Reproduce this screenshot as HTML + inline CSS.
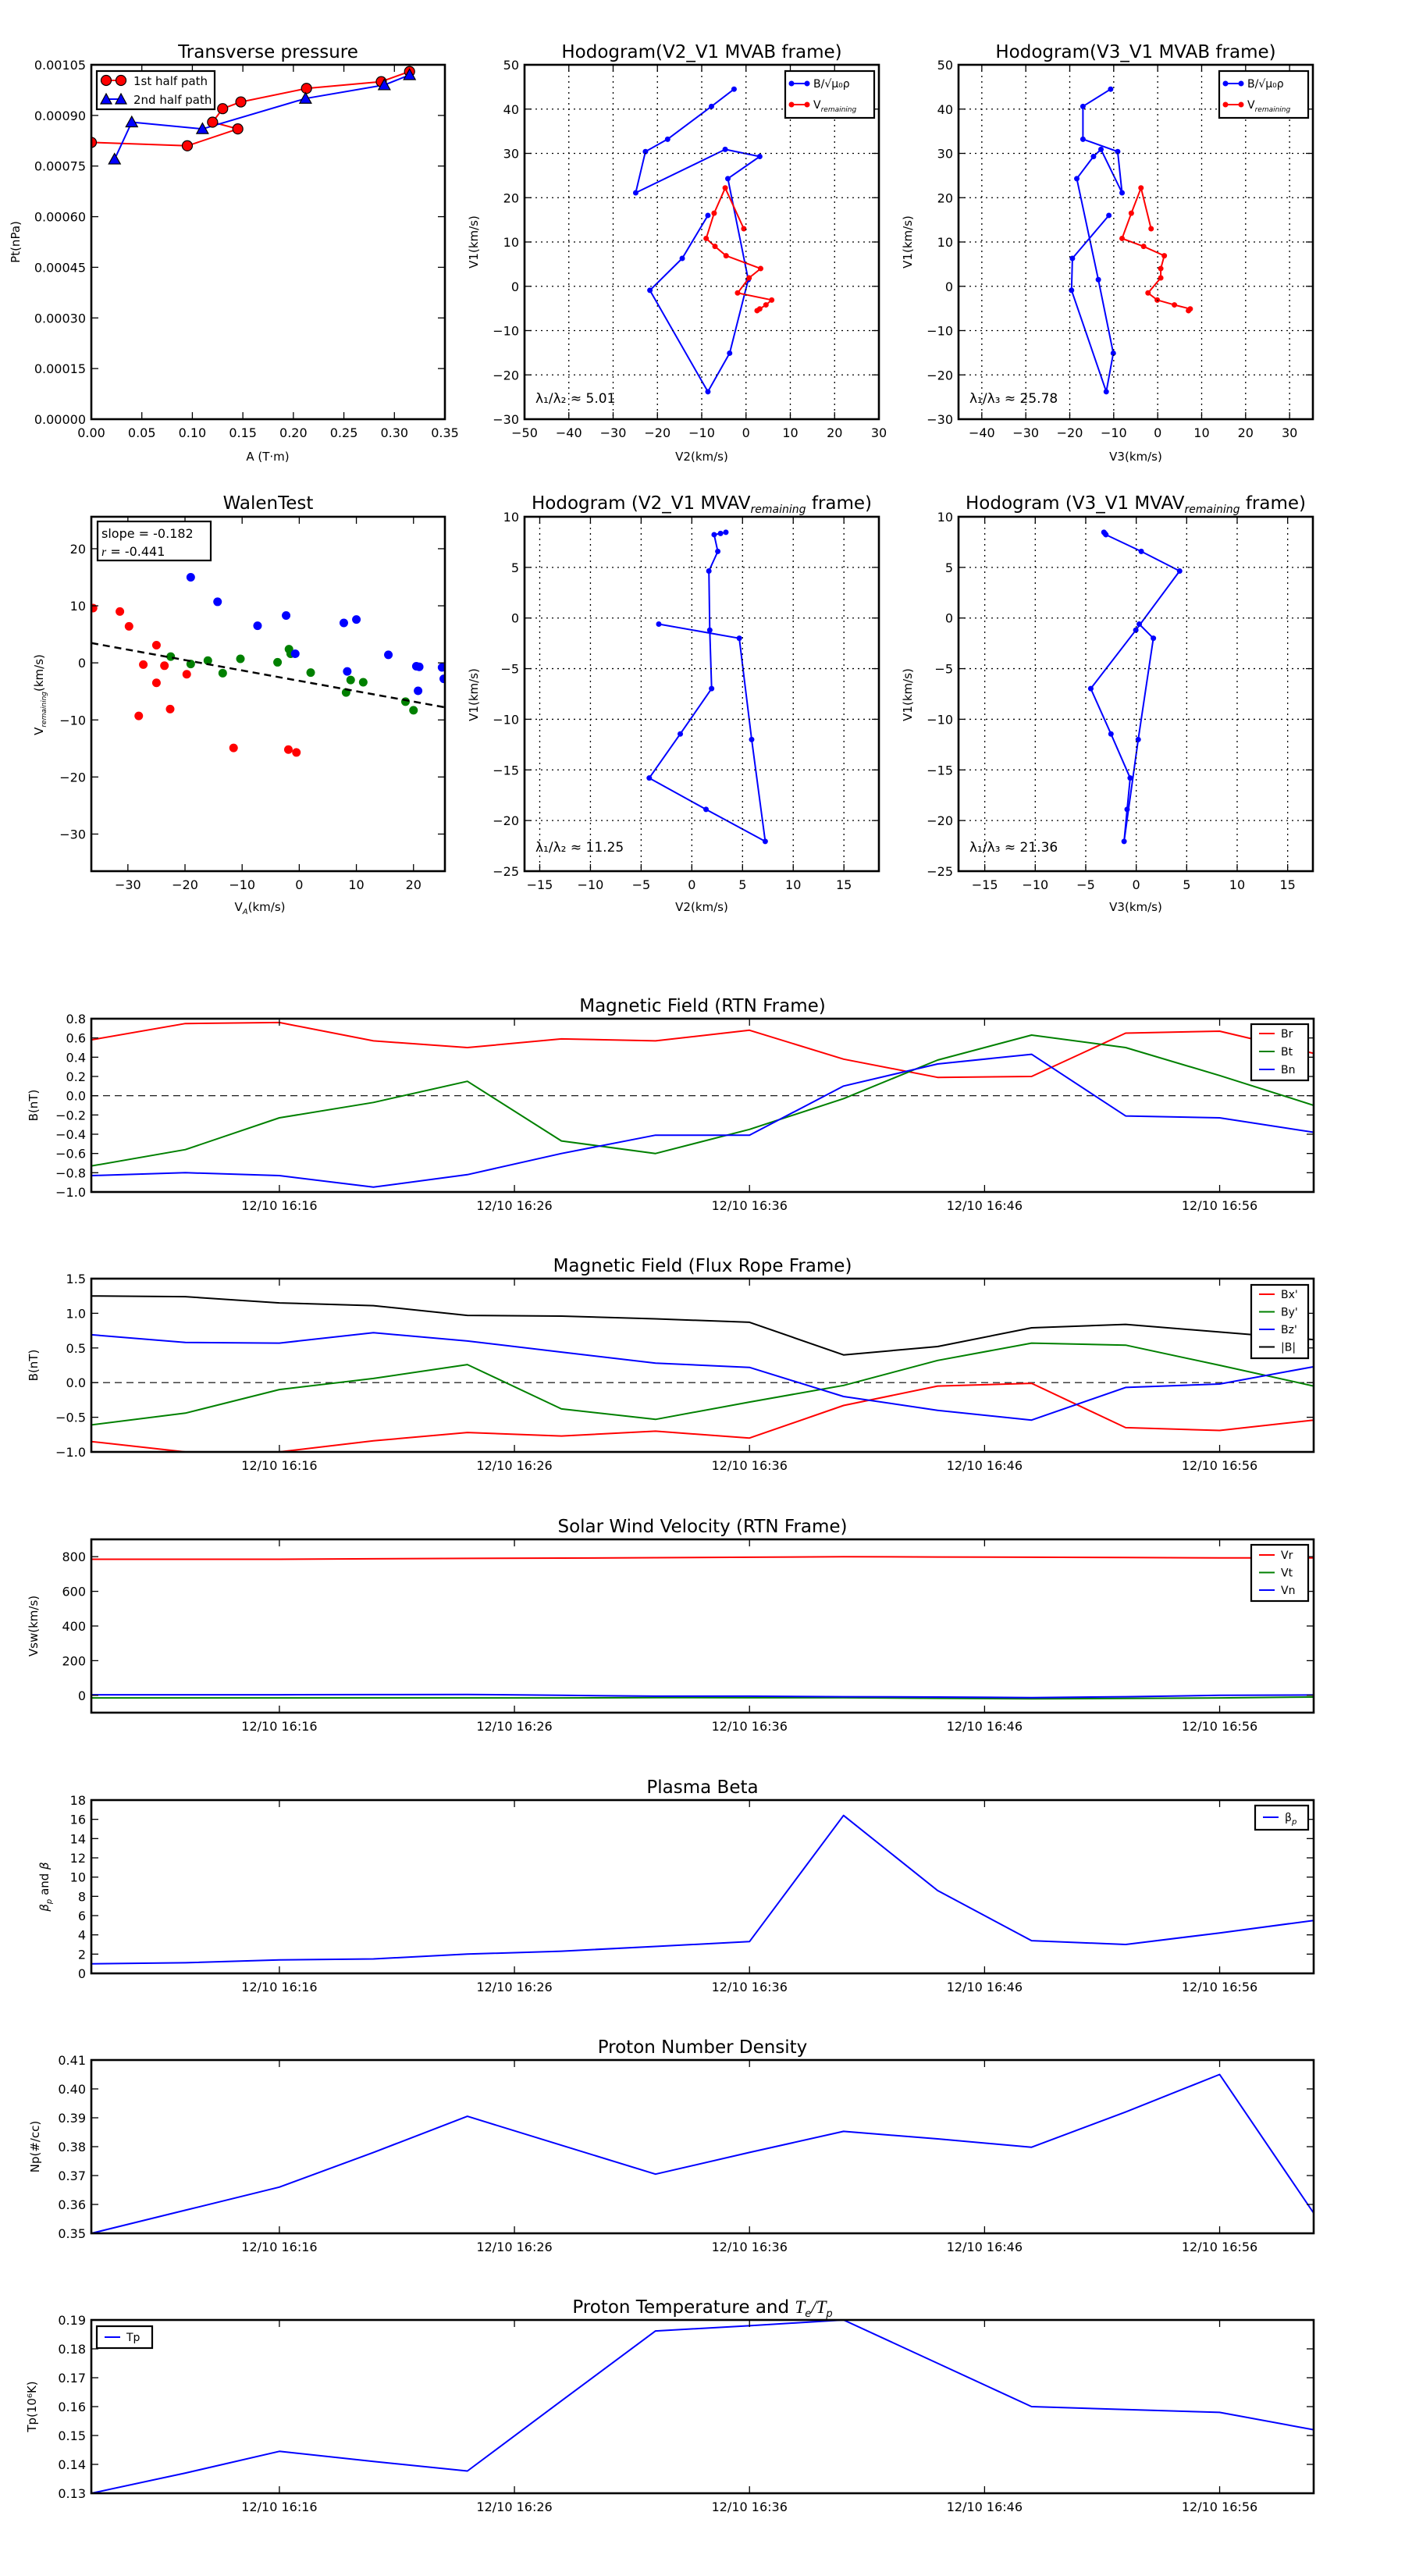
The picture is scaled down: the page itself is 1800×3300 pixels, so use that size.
<!DOCTYPE html>
<html><head><meta charset="utf-8"><style>
body{margin:0;background:#fff}
svg{display:block;font-family:"DejaVu Sans","Liberation Sans",sans-serif}
</style></head><body>
<svg id="fig" xmlns="http://www.w3.org/2000/svg" width="1800" height="3300" viewBox="0 0 1800 3300"></svg>
<script>
// ---------- data ----------
const ptRedA=[0.315,0.287,0.213,0.148,0.13,0.12,0.145,0.095,0.0];
const ptRedP=[0.00103,0.00100,0.00098,0.00094,0.00092,0.00088,0.00086,0.00081,0.00082];
const ptBlueA=[0.315,0.29,0.212,0.11,0.04,0.023];
const ptBlueP=[0.00102,0.00099,0.00095,0.00086,0.00088,0.00077];
const bV1=[44.5,40.6,33.2,30.4,21.1,30.9,29.3,24.3,1.5,-15.1,-23.8,-0.9,6.3,16.0];
const bV2=[-2.7,-7.8,-17.7,-22.7,-24.9,-4.7,3.1,-4.1,0.5,-3.7,-8.6,-21.7,-14.4,-8.6];
const bV3=[-10.7,-17.0,-17.0,-9.1,-8.1,-12.9,-14.6,-18.4,-13.5,-10.1,-11.7,-19.6,-19.4,-11.1];
const vV1=[13.0,22.2,16.5,10.8,9.0,6.9,4.0,1.9,-1.5,-3.1,-4.2,-5.1,-5.5];
const vV2=[-0.5,-4.7,-7.2,-9.0,-7.0,-4.5,3.3,0.7,-1.9,5.8,4.5,3.1,2.5];
const vV3=[-1.5,-3.8,-6.0,-8.1,-3.2,1.5,0.7,0.7,-2.2,-0.1,3.8,7.4,7.0];
const rV1=[8.47,8.35,8.23,6.58,4.64,-1.2,-6.97,-11.45,-15.8,-18.9,-22.06,-12.0,-2.0,-0.6];
const rV2=[3.36,2.83,2.2,2.56,1.68,1.77,1.95,-1.14,-4.2,1.4,7.24,5.9,4.68,-3.26];
const rV3=[-3.2,-3.1,-3.0,0.5,4.3,-0.04,-4.5,-2.5,-0.6,-0.9,-1.2,0.2,1.7,0.3];
const walenRedX=[-36.1,-31.4,-29.8,-25,-27.3,-23.6,-25,-19.7,-28.1,-22.6,-11.5,-1.9,-0.5];
const walenRedY=[9.6,9.0,6.4,3.1,-0.3,-0.5,-3.5,-2.0,-9.3,-8.1,-14.9,-15.2,-15.7];
const walenGreenX=[-22.5,-19,-16,-13.4,-10.3,-3.8,-1.8,-1.5,2,8.2,9.0,11.2,18.6,20];
const walenGreenY=[1.1,-0.2,0.4,-1.8,0.7,0.1,2.4,1.6,-1.7,-5.2,-3.0,-3.4,-6.8,-8.3];
const walenBlueX=[-19,-14.3,-7.3,-2.3,-0.7,7.8,10,15.6,8.4,20.5,21,20.8,25,25.3];
const walenBlueY=[15.0,10.7,6.5,8.3,1.6,7.0,7.6,1.4,-1.5,-0.6,-0.7,-4.9,-0.8,-2.8];
const walenSlope=-0.182, walenIntercept=-3.15;
const timeMin=[0,4,8,12,16,20,24,28,32,36,40,44,48,52];
const timeTickMin=[8,18,28,38,48];
const timeTickLabels=['12/10 16:16','12/10 16:26','12/10 16:36','12/10 16:46','12/10 16:56'];
const Br=[0.58,0.75,0.76,0.57,0.50,0.59,0.57,0.68,0.38,0.19,0.20,0.65,0.67,0.44];
const Bt=[-0.73,-0.56,-0.23,-0.07,0.15,-0.47,-0.60,-0.35,-0.03,0.37,0.63,0.50,0.21,-0.10];
const Bn=[-0.83,-0.80,-0.83,-0.95,-0.82,-0.60,-0.41,-0.41,0.10,0.33,0.43,-0.21,-0.23,-0.38];
const Bx=[-0.85,-1.00,-1.00,-0.84,-0.72,-0.77,-0.70,-0.80,-0.33,-0.05,-0.01,-0.65,-0.69,-0.54];
const By=[-0.61,-0.44,-0.10,0.06,0.26,-0.38,-0.53,-0.28,-0.04,0.32,0.57,0.54,0.25,-0.05];
const Bz=[0.69,0.58,0.57,0.72,0.60,0.44,0.28,0.22,-0.20,-0.40,-0.54,-0.07,-0.02,0.23];
const Bmag=[1.25,1.24,1.15,1.11,0.97,0.96,0.92,0.87,0.40,0.52,0.79,0.84,0.73,0.62];
const Vr=[785,785,785,788,790,792,794,797,800,798,797,795,793,793];
const Vt=[-15,-15,-15,-15,-15,-15,-13,-14,-14,-17,-20,-18,-15,-10];
const Vn=[3,3,3,4,5,0,-5,-5,-8,-10,-13,-8,0,2];
const betaP=[1.0,1.1,1.4,1.5,2.0,2.3,2.8,3.3,16.4,8.6,3.4,3.0,4.2,5.5];
const Np=[0.350,0.358,0.366,0.378,0.3905,0.3805,0.3705,0.378,0.3853,0.3827,0.3798,0.392,0.405,0.357];
const Tp=[0.130,0.137,0.1445,0.141,0.1377,0.162,0.1862,0.188,0.190,0.175,0.160,0.159,0.158,0.152];

// ---------- helpers ----------
const NS='http://www.w3.org/2000/svg';
const svg=document.getElementById('fig');
let clipN=0;
function mk(tag,attrs,parent){const e=document.createElementNS(NS,tag);for(const k in attrs)e.setAttribute(k,attrs[k]);parent.appendChild(e);return e;}
function txt(parent,str,x,y,size,anchor,rot,extra){
  const a={x:x,y:y,'font-size':size,'text-anchor':anchor||'middle',fill:'#000'};
  if(rot)a.transform='rotate('+rot+' '+x+' '+y+')';
  if(extra)for(const k in extra)a[k]=extra[k];
  const t=mk('text',a,parent);t.textContent=str;return t;}
function fmtMinus(s){return String(s).replace('-','\u2212');}
function panel(name,box,xd,yd){
  const g=mk('g',{},svg);
  
  
  const id='clip'+(clipN++);
  const cp=mk('clipPath',{id:id},g);
  mk('rect',{x:box.x,y:box.y,width:box.w,height:box.h},cp);
  const data=mk('g',{'clip-path':'url(#'+id+')'},g);
  
  
  return {g:g,data:data,box:box,
    sx:v=>box.x+(v-xd[0])/(xd[1]-xd[0])*box.w,
    sy:v=>box.y+box.h-(v-yd[0])/(yd[1]-yd[0])*box.h};
}
function xticks(p,vals,labels,grid,size){
  const b=p.box;
  vals.forEach((v,i)=>{
    const x=p.sx(v);
    if(grid){const gl=mk('line',{x1:x,x2:x,y1:b.y,y2:b.y+b.h,stroke:'#000','stroke-width':1.3,'stroke-dasharray':'2,5'},p.g);
      
      }
    const t1=mk('line',{x1:x,x2:x,y1:b.y+b.h,y2:b.y+b.h-9,stroke:'#000','stroke-width':1.3},p.g);
    
    
    const t2=mk('line',{x1:x,x2:x,y1:b.y,y2:b.y+9,stroke:'#000','stroke-width':1.3},p.g);
    
    
    const l=txt(p.g,fmtMinus(labels[i]),x,b.y+b.h+23,size||16,'middle');
    
    
  });
}
function yticks(p,vals,labels,grid,size){
  const b=p.box;
  vals.forEach((v,i)=>{
    const y=p.sy(v);
    if(grid){const gl=mk('line',{x1:b.x,x2:b.x+b.w,y1:y,y2:y,stroke:'#000','stroke-width':1.3,'stroke-dasharray':'2,5'},p.g);
      
      }
    const t1=mk('line',{x1:b.x,x2:b.x+9,y1:y,y2:y,stroke:'#000','stroke-width':1.3},p.g);
    
    
    const t2=mk('line',{x1:b.x+b.w,x2:b.x+b.w-9,y1:y,y2:y,stroke:'#000','stroke-width':1.3},p.g);
    
    
    const l=txt(p.g,fmtMinus(labels[i]),b.x-7,y+6,size||16,'end');
    
    
  });
}
function frame(p){
  const b=p.box;
  const r=mk('rect',{x:b.x,y:b.y,width:b.w,height:b.h,fill:'none',stroke:'#000','stroke-width':2.6},p.g);
  
  
}
function line(p,xs,ys,color,w,name){
  const pts=xs.map((x,i)=>p.sx(x).toFixed(1)+','+p.sy(ys[i]).toFixed(1)).join(' ');
  const l=mk('polyline',{points:pts,fill:'none',stroke:color,'stroke-width':w||2,'stroke-linejoin':'round'},p.data);
  
  
  return l;
}
function dots(p,xs,ys,color,r,name,edge){
  xs.forEach((x,i)=>{
    const c=mk('circle',{cx:p.sx(x),cy:p.sy(ys[i]),r:r,fill:color,stroke:edge?'#000':'none','stroke-width':1.2},p.data);
    
    
  });
}
function tris(p,xs,ys,color,s,name){
  xs.forEach((x,i)=>{
    const cx=p.sx(x),cy=p.sy(ys[i]);
    const t=mk('polygon',{points:(cx)+','+(cy-s)+' '+(cx-s)+','+(cy+s*0.8)+' '+(cx+s)+','+(cy+s*0.8),fill:color,stroke:'#000','stroke-width':1.2},p.data);
    
    
  });
}
function title(p,str,y){
  const t=txt(p.g,str,p.box.x+p.box.w/2,y,23,'middle');
  
  
  return t;
}
function legendBox(p,x,y,w,h){
  const r=mk('rect',{x:x,y:y,width:w,height:h,fill:'#fff',stroke:'#000','stroke-width':2.2},p.g);
  
  
}
function legendLine(p,x,y,color,label,dot){
  const l=mk('line',{x1:x,x2:x+20,y1:y,y2:y,stroke:color,'stroke-width':2},p.g);
  
  
  if(dot){[x,x+20].forEach(cx=>{const c=mk('circle',{cx:cx,cy:y,r:3.5,fill:color},p.g);
    
    });}
  const t=txt(p.g,label,x+28,y+5,14,'start');
  
  
  return t;
}
function range(a,b,s){const r=[];for(let v=a;v<=b+1e-9;v+=s)r.push(Math.round(v*1e6)/1e6);return r;}

// ---------- Transverse pressure ----------
(function(){
  const p=panel('transverse-pressure-chart',{x:117,y:83,w:453,h:454},[0,0.35],[0,0.00105]);
  const xv=range(0,0.35,0.05), yv=range(0,0.00105,0.00015);
  xticks(p,xv,xv.map(v=>v.toFixed(2)));
  yticks(p,yv,yv.map(v=>v.toFixed(5)));
  line(p,ptRedA,ptRedP,'#f00',2,'first-half-path-line');
  line(p,ptBlueA,ptBlueP,'#00f',2,'second-half-path-line');
  dots(p,ptRedA,ptRedP,'#f00',6.5,'first-half-point',true);
  tris(p,ptBlueA,ptBlueP,'#00f',7.5,'second-half-point');
  frame(p);
  title(p,'Transverse pressure',74);
  const xl=txt(p.g,'A (T\u00b7m)',343,590,15,'middle');
  
  
  const yl=txt(p.g,'Pt(nPa)',25,310,15,'middle',-90);
  
  
  legendBox(p,124,91,151,49);
  const l1=mk('line',{x1:136,x2:155,y1:103,y2:103,stroke:'#f00','stroke-width':2},p.g);
  
  
  [136,155].forEach(cx=>{const c=mk('circle',{cx:cx,cy:103,r:6.5,fill:'#f00',stroke:'#000','stroke-width':1.2},p.g);
    
    });
  const l2=mk('line',{x1:136,x2:155,y1:127,y2:127,stroke:'#00f','stroke-width':2},p.g);
  
  
  [136,155].forEach(cx=>{const t=mk('polygon',{points:cx+','+(127-7)+' '+(cx-7)+','+(127+6)+' '+(cx+7)+','+(127+6),fill:'#00f',stroke:'#000','stroke-width':1.2},p.g);
    
    });
  const a=txt(p.g,'1st half path',171,109,15,'start');
  
  
  const b=txt(p.g,'2nd half path',171,133,15,'start');
  
  
})();

// ---------- MVAB hodograms ----------
function hodoMVAB(name,x0,xd,xs,bx,vx,ttl,xlab,ratio){
  const p=panel(name,{x:x0,y:83,w:454,h:454},xd,[-30,50]);
  xticks(p,xs,xs,true);
  const yv=range(-30,50,10);
  yticks(p,yv,yv,true);
  line(p,bx,bV1,'#00f',2,'b-field-hodogram-line');
  dots(p,bx,bV1,'#00f',3.5,'b-field-point');
  line(p,vx,vV1,'#f00',2,'v-remaining-hodogram-line');
  dots(p,vx,vV1,'#f00',3.5,'v-remaining-point');
  frame(p);
  title(p,ttl,74);
  const xl=txt(p.g,xlab,x0+227,590,15,'middle');
  
  
  const yl=txt(p.g,'V1(km/s)',x0-60,310,15,'middle',-90);
  
  
  const r=txt(p.g,ratio,x0+14,516,17,'start');
  
  
  const lx=x0+454-120;
  legendBox(p,lx,91,114,60);
  legendLine(p,lx+8,107,'#00f','B/\u221a\u03bc\u2080\u03c1',true);
  const vl=legendLine(p,lx+8,134,'#f00','V',true);
  const ts=mk('tspan',{'font-size':9,'font-style':'italic',dy:4},vl);
  ts.textContent='remaining';
}
hodoMVAB('hodogram-v2-v1-mvab',672,[-50,30],range(-50,30,10),bV2,vV2,'Hodogram(V2_V1 MVAB frame)','V2(km/s)','\u03bb\u2081/\u03bb\u2082 \u2248 5.01');
hodoMVAB('hodogram-v3-v1-mvab',1228,[-45.3,35.3],range(-40,30,10),bV3,vV3,'Hodogram(V3_V1 MVAB frame)','V3(km/s)','\u03bb\u2081/\u03bb\u2083 \u2248 25.78');

// ---------- Walen test ----------
(function(){
  const p=panel('walen-test-chart',{x:117,y:662,w:453,h:454},[-36.4,25.5],[-36.5,25.6]);
  const xv=[-30,-20,-10,0,10,20], yv=[-30,-20,-10,0,10,20];
  xticks(p,xv,xv);
  yticks(p,yv,yv);
  dots(p,walenRedX,walenRedY,'#f00',5.5,'walen-point-red');
  dots(p,walenGreenX,walenGreenY,'#008000',5.5,'walen-point-green');
  dots(p,walenBlueX,walenBlueY,'#00f',5.5,'walen-point-blue');
  const fx=[-36.4,25.5];
  const fl=mk('line',{x1:p.sx(fx[0]),y1:p.sy(walenSlope*fx[0]+walenIntercept),x2:p.sx(fx[1]),y2:p.sy(walenSlope*fx[1]+walenIntercept),stroke:'#000','stroke-width':2.5,'stroke-dasharray':'9,6'},p.data);
  
  
  frame(p);
  title(p,'WalenTest',652);
  const xl=txt(p.g,'V',333,1167,15,'middle');
  
  
  const xs=mk('tspan',{'font-size':10,'font-style':'italic',dy:4},xl);xs.textContent='A';
  const xs2=mk('tspan',{dy:-4},xl);xs2.textContent='(km/s)';
  const yl=txt(p.g,'V',55,890,15,'middle',-90);
  
  
  const ys=mk('tspan',{'font-size':9,'font-style':'italic',dy:4},yl);ys.textContent='remaining';
  const ys2=mk('tspan',{dy:-4},yl);ys2.textContent='(km/s)';
  legendBox(p,125,668,145,50);
  const s1=txt(p.g,'slope = -0.182',130,689,16,'start');
  
  
  const s2=txt(p.g,'',130,712,16,'start');
  
  
  const it=mk('tspan',{'font-style':'italic','font-family':'Liberation Serif'},s2);it.textContent='r';
  const rt=mk('tspan',{},s2);rt.textContent=' = -0.441';
})();

// ---------- MVAV hodograms ----------
function hodoMVAV(name,x0,xd,xs,vx,ttl,xlab,ratio){
  const p=panel(name,{x:x0,y:662,w:454,h:454},xd,[-25,10]);
  xticks(p,xs,xs,true);
  const yv=range(-25,10,5);
  yticks(p,yv,yv,true);
  line(p,vx,rV1,'#00f',2,'v-remaining-hodogram-line');
  dots(p,vx,rV1,'#00f',3.5,'v-remaining-point');
  frame(p);
  const t=title(p,ttl[0],652);
  const sub=mk('tspan',{'font-size':14,'font-style':'italic',dy:5},t);sub.textContent='remaining';
  const rest=mk('tspan',{dy:-5},t);rest.textContent=' frame)';
  const xl=txt(p.g,xlab,x0+227,1167,15,'middle');
  
  
  const yl=txt(p.g,'V1(km/s)',x0-60,890,15,'middle',-90);
  
  
  const r=txt(p.g,ratio,x0+14,1091,17,'start');
  
  
}
hodoMVAV('hodogram-v2-v1-mvav',672,[-16.5,18.45],range(-15,15,5),rV2,['Hodogram (V2_V1 MVAV'],'V2(km/s)','\u03bb\u2081/\u03bb\u2082 \u2248 11.25');
hodoMVAV('hodogram-v3-v1-mvav',1228,[-17.6,17.5],range(-15,15,5),rV3,['Hodogram (V3_V1 MVAV'],'V3(km/s)','\u03bb\u2081/\u03bb\u2083 \u2248 21.36');

// ---------- time series ----------
function ts(name,top,yd,yv,ylabs,series,ttl,ylab,ylabX,leg,zero){
  const p=panel(name,{x:117,y:top,w:1566,h:222},[0,52],yd);
  xticks(p,timeTickMin,timeTickLabels,false,16);
  yticks(p,yv,ylabs,false,16);
  if(zero){const z=mk('line',{x1:p.sx(0),x2:p.sx(52),y1:p.sy(0),y2:p.sy(0),stroke:'#000','stroke-width':1.2,'stroke-dasharray':'9,6'},p.data);
    
    }
  series.forEach(s=>line(p,timeMin,s.v,s.c,2,s.n));
  frame(p);
  const t=title(p,ttl,top-9);
  const yl=txt(p.g,ylab,ylabX,top+111,15,'middle',-90);
  
  
  if(leg){
    legendBox(p,leg.x,leg.y,leg.w,leg.h);
    series.forEach((s,i)=>{if(s.lab)legendLine(p,leg.x+10,leg.y+leg.r0+i*leg.dr,s.c,s.lab,false);});
  }
  return {p:p,title:t,yl:yl};
}
ts('magnetic-field-rtn-chart',1305,[-1,0.8],range(-1,0.8,0.2),range(-1,0.8,0.2).map(v=>v.toFixed(1)),
  [{v:Br,c:'#f00',n:'br-line',lab:'Br'},{v:Bt,c:'#008000',n:'bt-line',lab:'Bt'},{v:Bn,c:'#00f',n:'bn-line',lab:'Bn'}],
  'Magnetic Field (RTN Frame)','B(nT)',48,{x:1603,y:1312,w:73,h:72,r0:12,dr:23},true);
ts('magnetic-field-flux-rope-chart',1638,[-1,1.5],range(-1,1.5,0.5),range(-1,1.5,0.5).map(v=>v.toFixed(1)),
  [{v:Bx,c:'#f00',n:'bx-line',lab:"Bx'"},{v:By,c:'#008000',n:'by-line',lab:"By'"},{v:Bz,c:'#00f',n:'bz-line',lab:"Bz'"},{v:Bmag,c:'#000',n:'b-magnitude-line',lab:'|B|'}],
  'Magnetic Field (Flux Rope Frame)','B(nT)',48,{x:1603,y:1646,w:73,h:94,r0:12,dr:22.5},true);
ts('solar-wind-velocity-chart',1972,[-100,900],[0,200,400,600,800],['0','200','400','600','800'],
  [{v:Vr,c:'#f00',n:'vr-line',lab:'Vr'},{v:Vt,c:'#008000',n:'vt-line',lab:'Vt'},{v:Vn,c:'#00f',n:'vn-line',lab:'Vn'}],
  'Solar Wind Velocity (RTN Frame)','Vsw(km/s)',48,{x:1603,y:1979,w:73,h:72,r0:13,dr:22.5},false);
(function(){
  const r=ts('plasma-beta-chart',2306,[0,18],range(0,18,2),range(0,18,2).map(String),
    [{v:betaP,c:'#00f',n:'beta-p-line',lab:''}],
    'Plasma Beta','',62,null,false);
  legendBox(r.p,1608,2313,68,31);
  const l=legendLine(r.p,1618,2328,'#00f','\u03b2',false);
  const s=mk('tspan',{'font-size':10,dy:4,'font-style':'italic'},l);s.textContent='p';
  const yl=r.yl;
  const a=mk('tspan',{'font-style':'italic'},yl);a.textContent='\u03b2';
  const b=mk('tspan',{'font-size':10,'font-style':'italic',dy:4},yl);b.textContent='p';
  const c=mk('tspan',{dy:-4},yl);c.textContent=' and ';
  const d=mk('tspan',{'font-style':'italic'},yl);d.textContent='\u03b2';
})();
ts('proton-density-chart',2639,[0.35,0.41],range(0.35,0.41,0.01),range(0.35,0.41,0.01).map(v=>v.toFixed(2)),
  [{v:Np,c:'#00f',n:'np-line',lab:''}],
  'Proton Number Density','Np(#/cc)',50,null,false);
(function(){
  const r=ts('proton-temperature-chart',2972,[0.13,0.19],range(0.13,0.19,0.01),range(0.13,0.19,0.01).map(v=>v.toFixed(2)),
    [{v:Tp,c:'#00f',n:'tp-line',lab:''}],
    'Proton Temperature and ','Tp(10\u2076K)',46,null,false);
  const t=r.title;
  const a=mk('tspan',{'font-style':'italic','font-family':'Liberation Serif'},t);a.textContent='T';
  const b=mk('tspan',{'font-size':13,'font-style':'italic',dy:5},t);b.textContent='e';
  const c=mk('tspan',{dy:-5,'font-style':'italic','font-family':'Liberation Serif'},t);c.textContent='/T';
  const d=mk('tspan',{'font-size':13,'font-style':'italic',dy:5},t);d.textContent='p';
  legendBox(r.p,124,2980,71,28);
  legendLine(r.p,134,2994,'#00f','Tp',false);
})();
</script>
</body></html>
